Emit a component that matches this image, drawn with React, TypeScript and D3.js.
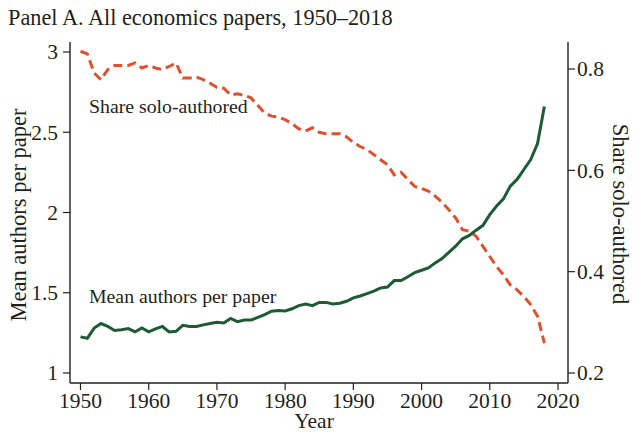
import { line, range, scaleLinear } from 'd3';
import React from 'react';

const width = 643;
const height = 437;
const plot = { left: 70, right: 568, top: 42, bottom: 383 };

const firstYear = 1950;
const years = range(firstYear, 2019);

const meanAuthors = [
	1.225, 1.216, 1.28, 1.308, 1.29, 1.265, 1.27, 1.277, 1.256, 1.28,
	1.256, 1.275, 1.29, 1.256, 1.26, 1.297, 1.29, 1.29, 1.3, 1.308,
	1.316, 1.312, 1.34, 1.32, 1.33, 1.33, 1.347, 1.364, 1.385, 1.39,
	1.387, 1.4, 1.42, 1.43, 1.42, 1.44, 1.44, 1.43, 1.435, 1.447,
	1.468, 1.48, 1.495, 1.51, 1.53, 1.536, 1.576, 1.576, 1.6, 1.625,
	1.64, 1.655, 1.686, 1.713, 1.752, 1.79, 1.836, 1.857, 1.89, 1.92,
	1.987, 2.04, 2.085, 2.164, 2.206, 2.268, 2.33, 2.43, 2.66,
];

const shareSolo = [
	0.835, 0.83, 0.792, 0.779, 0.799, 0.807, 0.807, 0.807, 0.812, 0.802,
	0.807, 0.802, 0.799, 0.805, 0.812, 0.782, 0.782, 0.784, 0.779, 0.772,
	0.764, 0.762, 0.749, 0.751, 0.748, 0.743, 0.728, 0.713, 0.707, 0.705,
	0.7, 0.692, 0.682, 0.678, 0.684, 0.675, 0.672, 0.672, 0.672, 0.666,
	0.655, 0.647, 0.641, 0.631, 0.621, 0.611, 0.591, 0.596, 0.582, 0.568,
	0.564, 0.559, 0.549, 0.537, 0.522, 0.506, 0.483, 0.48, 0.47, 0.45,
	0.43, 0.41, 0.394, 0.374, 0.364, 0.351, 0.335, 0.312, 0.259,
];

const xTicks = [1950, 1960, 1970, 1980, 1990, 2000, 2010, 2020];
const leftTicks = [1, 1.5, 2, 2.5, 3];
const rightTicks = [0.2, 0.4, 0.6, 0.8];

const font = '"Liberation Serif", "Times New Roman", serif';
const ink = '#231f20';
const green = '#1d5b34';
const red = '#e0502c';

const App = () => {
	const xScale = scaleLinear().domain([1950, 2020]).range([80.5, 558]);
	const yLeft = scaleLinear().domain([1, 3]).range([373, 52]);
	const yRight = scaleLinear().domain([0.2, 0.8]).range([373, 69]);

	const greenLine = line<number>()
		.x((_, i) => xScale(years[i]))
		.y(d => yLeft(d));
	const redLine = line<number>()
		.x((_, i) => xScale(years[i]))
		.y(d => yRight(d));

	return (
		<svg
			width={width}
			height={height}
			style={{ position: 'absolute', left: 0, top: 0, background: '#fff' }}
			fontFamily={font}
			fill={ink}
		>
			<text x={8} y={25} fontSize={22.3}>
				Panel A. All economics papers, 1950–2018
			</text>

			{/* axes */}
			<g stroke={ink} strokeWidth={1.4} fill="none">
				<line x1={plot.left} x2={plot.left} y1={plot.top} y2={plot.bottom} />
				<line x1={plot.right} x2={plot.right} y1={plot.top} y2={plot.bottom} />
				<line x1={plot.left} x2={plot.right} y1={plot.bottom} y2={plot.bottom} />
			</g>

			{xTicks.map(t => (
				<g key={t} transform={`translate(${xScale(t)},${plot.bottom})`}>
					<line y2={7} stroke={ink} strokeWidth={1.2} />
					<text y={25} textAnchor="middle" fontSize={21.5}>
						{t}
					</text>
				</g>
			))}

			{leftTicks.map(t => (
				<g key={t} transform={`translate(${plot.left},${yLeft(t)})`}>
					<line x2={-7} stroke={ink} strokeWidth={1.2} />
					<text x={-12} dy=".34em" textAnchor="end" fontSize={21.5}>
						{t}
					</text>
				</g>
			))}

			{rightTicks.map(t => (
				<g key={t} transform={`translate(${plot.right},${yRight(t)})`}>
					<line x2={7} stroke={ink} strokeWidth={1.2} />
					<text x={9} dy=".34em" textAnchor="start" fontSize={21.5}>
						{t}
					</text>
				</g>
			))}

			<text x={314} y={428} textAnchor="middle" fontSize={21.5}>
				Year
			</text>
			<text
				transform="translate(26,215) rotate(-90)"
				textAnchor="middle"
				fontSize={22.5}
			>
				Mean authors per paper
			</text>
			<text
				transform="translate(613,214) rotate(90)"
				textAnchor="middle"
				fontSize={22.5}
			>
				Share solo-authored
			</text>

			<path
				d={redLine(shareSolo) || ''}
				fill="none"
				stroke={red}
				strokeWidth={3}
				strokeDasharray="9 5"
			/>
			<path d={greenLine(meanAuthors) || ''} fill="none" stroke={green} strokeWidth={3} />

			<text x={89} y={113} fontSize={19.8}>
				Share solo-authored
			</text>
			<text x={89} y={303} fontSize={19.8}>
				Mean authors per paper
			</text>
		</svg>
	);
};

export default App;
